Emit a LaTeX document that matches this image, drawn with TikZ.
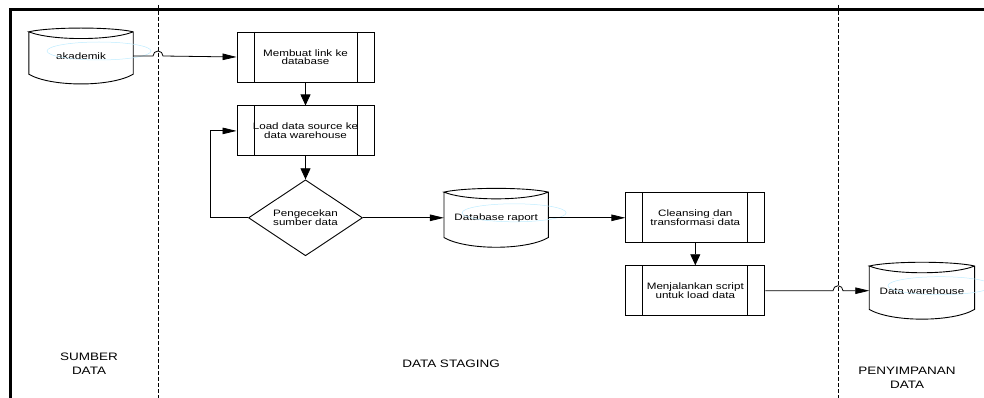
\documentclass[tikz,border=0pt]{standalone}
\usepackage{fontspec}
\setmainfont{Liberation Sans}[FakeStretch=1.25]
\usetikzlibrary{arrows.meta,positioning,shapes.geometric,calc}

\tikzset{
  proc/.style={draw,line width=0.9pt,minimum width=137pt,minimum height=50pt,
    align=center,font=\fontsize{9.3}{8.6}\selectfont,
    path picture={
      \draw[line width=0.9pt] ([xshift=17pt]path picture bounding box.north west)
        -- ([xshift=17pt]path picture bounding box.south west);
      \draw[line width=0.9pt] ([xshift=-17pt]path picture bounding box.north east)
        -- ([xshift=-17pt]path picture bounding box.south east);}},
  dbase/.style={minimum width=104pt,minimum height=56pt,inner sep=0pt,
    font=\fontsize{9.3}{8.6}\selectfont},
  check/.style={draw,diamond,aspect=1.5,minimum width=114pt,minimum height=76pt,
    inner sep=0pt,line width=0.9pt,align=center,font=\fontsize{9.3}{8.6}\selectfont},
  lane/.style={align=center,font=\fontsize{10.8}{14}\selectfont},
  lanesep/.style={line width=0.8pt,dash pattern=on 4pt off 2pt},
  hflow/.style={line width=0.8pt,-{Triangle[length=14pt,width=6.5pt]}},
  vflow/.style={line width=0.8pt,-{Triangle[length=11pt,width=10pt]}},
  stray/.style={draw=blue!30!cyan!25,line width=0.5pt}
}

\begin{document}
\begin{tikzpicture}[x=1pt,y=-1pt]

\useasboundingbox (0,0) rectangle (984,398);
\clip (0,0) rectangle (984,398);

% frame and lanes
\draw[line width=3.5pt] (10.5,410) |- (1000,9.5);
\coordinate (l1top) at (158,5);  \coordinate (l1bot) at (158,400);
\coordinate (l2top) at (838,5);  \coordinate (l2bot) at (838,400);
\draw[lanesep] (l1top) -- (l1bot);
\draw[lanesep] (l2top) -- (l2bot);

\node[lane] (sumber) at (89,364) {SUMBER\\DATA};
\node[lane] (staging) at (451,364) {DATA STAGING};
\node[lane] (simpan) at (907,377.5) {PENYIMPANAN\\DATA};

% sumber data
\node[dbase] (akd) at (81,56) {akademik};

% data staging
\node[proc] (b1) at (305.5,57) {Membuat link ke\\database};
\node[proc,below=23pt of b1] (b2) {Load data source ke\\data warehouse};
\node[check,below=23pt of b2] (chk) {Pengecekan\\sumber data};
\node[dbase,right=81pt of chk,minimum height=59pt] (raport) {Database raport};
\node[proc,right=77pt of raport,minimum width=139pt] (clean) {Cleansing dan\\transformasi data};
\node[proc,below=22pt of clean,minimum width=139pt] (run) {Menjalankan script\\untuk load data};

% penyimpanan data
\node[dbase,right=104pt of run,minimum width=105pt,minimum height=57pt] (dw) {Data warehouse};

% database outlines
\foreach \d in {akd,raport,dw}{
  \draw[line width=0.9pt] ($(\d.north west)+(0,4)$) -- ($(\d.south west)+(0,-10)$)
    .. controls +(22,13) and +(-22,13) .. ($(\d.south east)+(0,-10)$)
    -- ($(\d.north east)+(0,4)$)
    .. controls +(-22,-5) and +(22,-5) .. ($(\d.north west)+(0,4)$)
    .. controls +(22,9) and +(-22,9) .. ($(\d.north east)+(0,4)$);
  \draw[stray] ($(\d.center)+(18,-5)$) ellipse (52pt and 9pt);
}

% connectors
\draw[hflow] (akd.east) -- ($(akd.east -| l1top)+(-5,0)$)
  arc[start angle=180,end angle=0,radius=5pt] -- (b1.west);
\draw[vflow] (b1) -- (b2);
\draw[vflow] (b2) -- (chk);
\draw[hflow] (chk.west) -- ++(-38,0) |- (b2.west);
\draw[hflow] (chk) -- (raport);
\draw[hflow] (raport) -- (clean);
\draw[vflow] (clean) -- (run);
\draw[hflow] (run.east) -- ($(run.east -| l2top)+(-5,0)$)
  arc[start angle=180,end angle=0,radius=5pt] -- (dw.west);

\end{tikzpicture}
\end{document}
